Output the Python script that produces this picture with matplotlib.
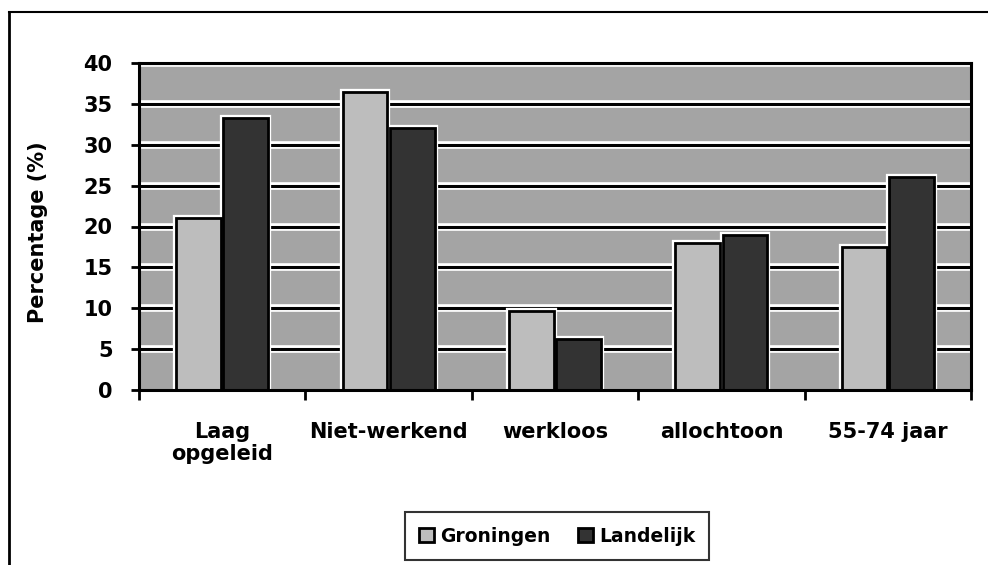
import matplotlib.pyplot as plt
import numpy as np
from matplotlib.lines import Line2D

# gegevens uit de figuur
categorieen = ['Laag\nopgeleid', 'Niet-werkend', 'werkloos', 'allochtoon', '55-74 jaar']
groningen = [21.0, 36.5, 9.7, 18.0, 17.5]
landelijk = [33.3, 32.0, 6.2, 19.0, 26.0]
y_ticks = [0, 5, 10, 15, 20, 25, 30, 35, 40]

plt.rcParams['font.family'] = ['DejaVu Sans']
plt.rcParams['font.weight'] = 'bold'

fig = plt.figure(figsize=(9.88, 5.65), dpi=100)
ax = fig.add_axes([139 / 988, 1 - 390 / 565, (971 - 139) / 988, (390 - 63) / 565])

x = np.arange(len(categorieen))
w = 0.27
d = 0.142

ax.set_facecolor('#a4a4a4')
# rasterlijnen met witte rand
for yv in y_ticks[1:]:
    ax.axhline(yv, color='white', lw=5.5, zorder=1)
    ax.axhline(yv, color='black', lw=2.2, zorder=1.5)

# witte rand rond de staven
ax.bar(x - d, groningen, width=w, color='none', edgecolor='white',
       linewidth=4.5, zorder=2.5)
ax.bar(x + d, landelijk, width=w, color='none', edgecolor='white',
       linewidth=4.5, zorder=2.5)
ax.bar(x - d, groningen, width=w, color='#bdbdbd', edgecolor='black',
       linewidth=2.0, zorder=3, label='Groningen')
ax.bar(x + d, landelijk, width=w, color='#333333', edgecolor='black',
       linewidth=2.0, zorder=3, label='Landelijk')

ax.set_xlim(-0.5, len(categorieen) - 0.5)
ax.set_ylim(0, 40)
ax.set_yticks(y_ticks)
ax.tick_params(axis='y', labelsize=15, length=6, width=2, pad=13)

ax.set_xticks(np.arange(len(categorieen) + 1) - 0.5)
ax.set_xticklabels([])
ax.set_xticks(x, minor=True)
ax.set_xticklabels(categorieen, minor=True, fontsize=15, linespacing=1.15)
ax.tick_params(axis='x', which='major', length=7, width=2)
ax.tick_params(axis='x', which='minor', length=0, pad=23)

for s in ax.spines.values():
    s.set_linewidth(2.2)
    s.set_zorder(4)

fig.text(38 / 988, 1 - 232 / 565, 'Percentage (%)', rotation=90,
         ha='center', va='center', fontsize=15, fontweight='bold')

leg = fig.legend(loc='center', bbox_to_anchor=(557 / 988, 1 - 536 / 565),
                 ncol=2, fontsize=13.5, frameon=True, fancybox=False,
                 handlelength=0.8, handleheight=0.8, handletextpad=0.3,
                 columnspacing=1.5, borderpad=0.75, borderaxespad=0)
leg.get_frame().set_edgecolor('black')
leg.get_frame().set_linewidth(1.5)

# kader rond de grafiek
fig.add_artist(Line2D([9 / 988, 9 / 988], [0, 1 - 12 / 565], color='black', lw=2))
fig.add_artist(Line2D([9 / 988, 1], [1 - 12 / 565, 1 - 12 / 565], color='black', lw=1.5))

plt.savefig('out.png', dpi=100)
